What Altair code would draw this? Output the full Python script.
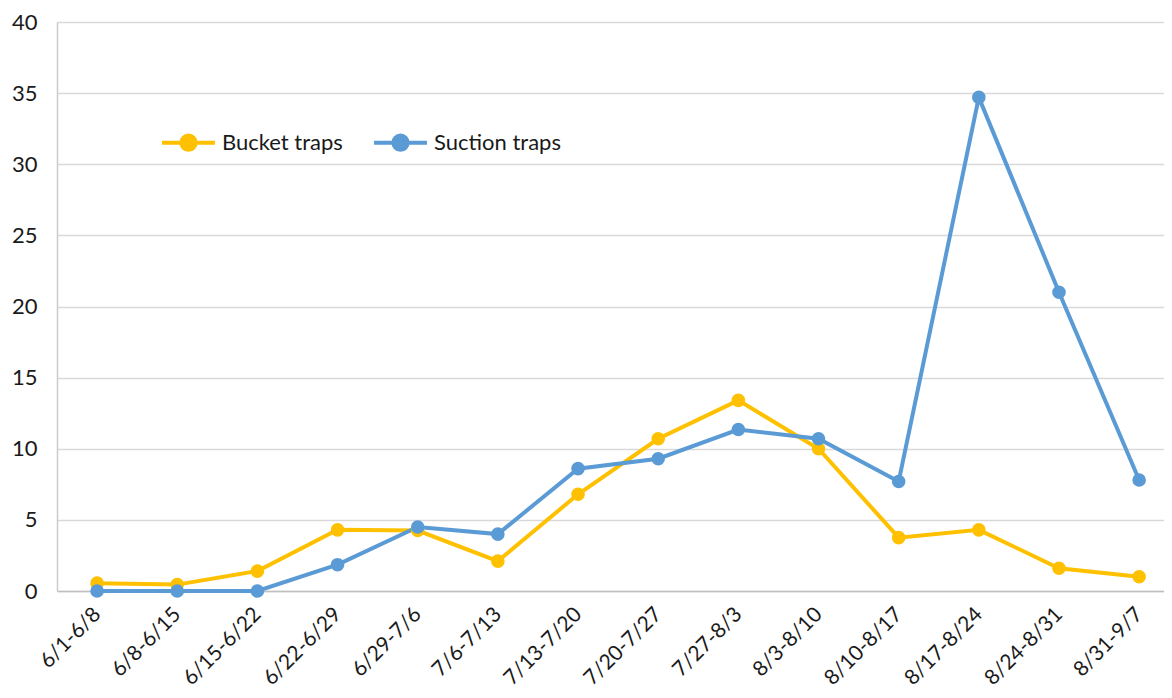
import json
import altair as alt
import pandas as pd

weeks = ["6/1-6/8", "6/8-6/15", "6/15-6/22", "6/22-6/29", "6/29-7/6", "7/6-7/13",
         "7/13-7/20", "7/20-7/27", "7/27-8/3", "8/3-8/10", "8/10-8/17", "8/17-8/24",
         "8/24-8/31", "8/31-9/7"]
bucket = [0.55, 0.45, 1.4, 4.3, 4.25, 2.1, 6.8, 10.7, 13.4, 10.0, 3.75, 4.3, 1.6, 1.0]
suction = [0.0, 0.0, 0.0, 1.85, 4.5, 4.0, 8.6, 9.3, 11.35, 10.7, 7.7, 34.7, 21.0, 7.8]
series_names = ["Bucket traps", "Suction traps"]
series_colors = ["#FFC000", "#5B9BD5"]

rows = []
for i, (w, v) in enumerate(zip(weeks, bucket)):
    rows.append({"idx": i, "week": w, "value": v, "series": series_names[0]})
for i, (w, v) in enumerate(zip(weeks, suction)):
    rows.append({"idx": i, "week": w, "value": v, "series": series_names[1]})
df = pd.DataFrame(rows)

FONT = "Lato"
legend_symbol = "M-1,0H1M-0.27,0A0.27,0.27 0 1,1 0.27,0A0.27,0.27 0 1,1 -0.27,0Z"
label_expr = json.dumps(weeks) + "[round(datum.value)]"

x = alt.X("idx:Q", title=None,
          scale=alt.Scale(domain=[-0.5, 13.31], nice=False, zero=False),
          axis=alt.Axis(values=list(range(len(weeks))), labelExpr=label_expr,
                        labelAngle=-45, labelFontSize=21, labelFont=FONT, labelColor="#1a1a1a",
                        ticks=False, domain=True, domainColor="#bfbfbf", domainWidth=1.5,
                        labelPadding=20, grid=False, labelAlign="right", labelBaseline="middle",
                        labelOverlap=False, labelBound=False, labelFlush=False))
y = alt.Y("value:Q", title=None,
          scale=alt.Scale(domain=[0, 40], nice=False),
          axis=alt.Axis(values=list(range(0, 41, 5)), labelFontSize=22, labelFont=FONT,
                        labelColor="#1a1a1a", ticks=False, domain=True, domainColor="#cccccc",
                        domainWidth=1.5, gridColor="#d9d9d9", gridWidth=1.5, labelPadding=20))
color = alt.Color("series:N", sort=series_names,
                  scale=alt.Scale(domain=series_names, range=series_colors),
                  legend=alt.Legend(title=None, orient="none", direction="horizontal",
                                    legendX=103, legendY=92,
                                    symbolType=legend_symbol, symbolSize=2800,
                                    symbolStrokeWidth=4, symbolOpacity=1,
                                    labelFontSize=22, labelFont=FONT, labelColor="#1a1a1a",
                                    columnPadding=23, labelOffset=5))

base = alt.Chart(df).encode(x=x, y=y, color=color, detail="series:N",
                            tooltip=["week:N", "series:N", "value:Q"])
lines = base.mark_line(strokeWidth=4)
points = base.mark_point(filled=True, size=185, opacity=1)

chart = alt.layer(lines, points).properties(
    width=1107, height=569,
    autosize=alt.AutoSizeParams(type="none"),
    padding={"left": 49, "top": 14, "right": 0, "bottom": 106},
).configure_view(stroke=None).configure(background="white")

chart.save("out.html", embed_options={"renderer": "svg", "actions": False})
